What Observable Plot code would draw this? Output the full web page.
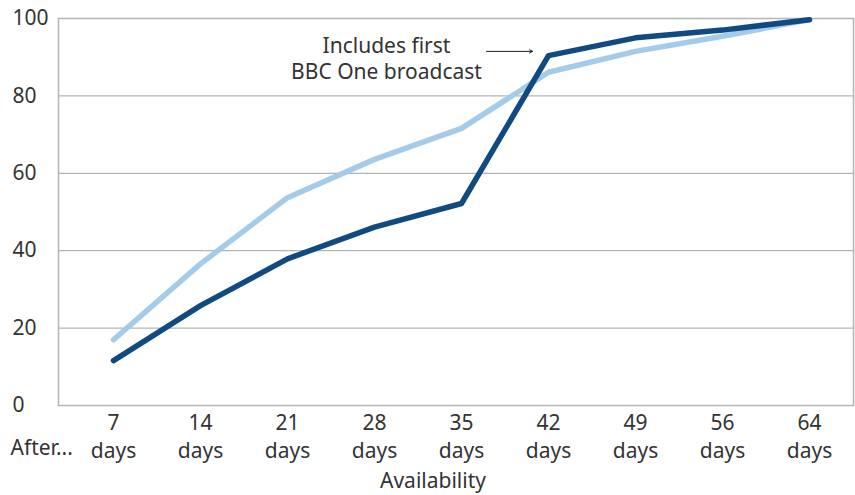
<!DOCTYPE html>
<html>
<head>
<meta charset="utf-8">
<script src="https://cdn.jsdelivr.net/npm/d3@7"></script>
<script src="https://cdn.jsdelivr.net/npm/@observablehq/plot@0.6"></script>
<style>
  html, body { margin: 0; padding: 0; background: #fff; }
  #chart svg { display: block; }
</style>
</head>
<body>
<div id="chart"></div>
<script>
const categories = ["7 days", "14 days", "21 days", "28 days", "35 days", "42 days", "49 days", "56 days", "64 days"];
const seriesDark = [11.6, 25.8, 37.9, 46.1, 52.2, 90.4, 95.0, 97.0, 99.7];
const seriesLight = [17.0, 36.6, 53.7, 63.6, 71.6, 86.1, 91.5, 95.4, 99.7];
const yTicks = [0, 20, 40, 60, 80, 100];
const annotationText = "Includes first\nBBC One broadcast";
const xTitle = "Availability";
const afterLabel = "After...";

const dark = categories.map((c, i) => ({cat: c, v: seriesDark[i]}));
const light = categories.map((c, i) => ({cat: c, v: seriesLight[i]}));

const font = "'Noto Sans', sans-serif";
const textColor = "#333333";
const gridColor = "#b5b5b5";
const fs = 21;

const chart = Plot.plot({
  width: 855,
  height: 495,
  marginTop: 18,
  marginBottom: 90,
  marginLeft: 58,
  marginRight: 2,
  style: {fontFamily: font, fontSize: fs + "px", color: textColor, background: "#fff"},
  x: {type: "point", domain: categories, padding: 0, insetLeft: 52, insetRight: 42, axis: null},
  y: {domain: [0, 100], axis: null},
  marks: [
    Plot.ruleY(yTicks.filter(d => d > 0), {stroke: gridColor, strokeWidth: 1.2}),
    Plot.frame({stroke: gridColor, strokeWidth: 1.5}),
    Plot.text(yTicks, {y: d => d, text: d => String(d), frameAnchor: "left", dx: -46, textAnchor: "start", fill: textColor, fontSize: fs}),
    Plot.text(categories, {x: d => d, text: d => d.replace(" ", "\n"), frameAnchor: "bottom", lineAnchor: "top", dy: 5, lineHeight: 1.33, fill: textColor, fontSize: fs}),
    Plot.text([afterLabel], {frameAnchor: "bottom-left", dx: -48, dy: 35, lineAnchor: "top", textAnchor: "start", fill: textColor, fontSize: fs}),
    Plot.text([xTitle], {frameAnchor: "bottom", dx: -23, dy: 68, lineAnchor: "top", fill: textColor, fontSize: fs}),
    Plot.line(light, {x: "cat", y: "v", stroke: "#a5cbeb", strokeWidth: 5.5, strokeLinecap: "round", strokeLinejoin: "round"}),
    Plot.line(dark, {x: "cat", y: "v", stroke: "#114a80", strokeWidth: 5.5, strokeLinecap: "round", strokeLinejoin: "round"}),
    Plot.text([annotationText], {x: () => "28 days", y: () => 89.8, dx: 12, lineHeight: 1.2, fill: textColor, fontSize: fs, lineAnchor: "middle"}),
    Plot.arrow([0], {x1: () => "35 days", x2: () => "42 days", y1: () => 91.5, y2: () => 91.5, insetStart: 25, insetEnd: 16, stroke: "#222", strokeWidth: 1, headLength: 5, bend: 0})
  ]
});
document.getElementById("chart").appendChild(chart);
</script>
</body>
</html>
